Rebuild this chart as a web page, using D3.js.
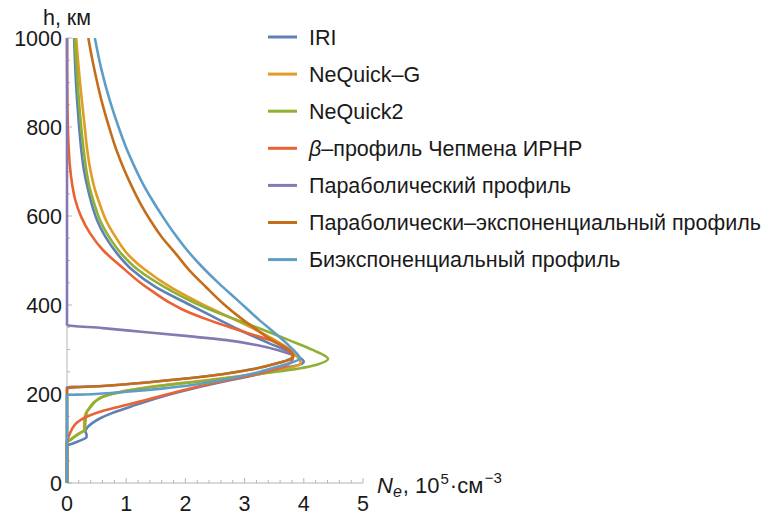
<!DOCTYPE html>
<html>
<head>
<meta charset="utf-8">
<script src="https://cdn.jsdelivr.net/npm/d3@7"></script>
<style>
  html, body { margin: 0; padding: 0; background: #fff; }
  svg { display: block; }
  text { font-family: "Liberation Sans", Arial, sans-serif; fill: #1a1a1a; }
</style>
</head>
<body>
<svg id="chart" width="781" height="516"></svg>
<script>
// Electron density profiles: [Ne (10^5 cm^-3), h (km)], ordered by height
const iri = [[0,0],[0,83],[0.12,90],[0.25,97],[0.33,103],[0.33,109],[0.31,116],[0.34,124],[0.42,134],[0.57,146],[0.76,157],[1.0,168],[1.15,175],[1.6,194],[2.15,213],[2.75,231],[3.3,246],[3.75,260],[3.97,268],[4.0,273],[3.95,280],[3.75,295],[3.4,315],[2.9,345],[2.45,375],[2.02,404],[1.5,440],[1.1,479],[0.85,515],[0.65,553],[0.51,590],[0.415,628],[0.345,665],[0.29,700],[0.24,750],[0.205,800],[0.17,861],[0.152,900],[0.12,1000]];
const nequickG = [[0,0],[0,93],[0.05,97],[0.12,104],[0.21,112],[0.29,119],[0.29,135],[0.3,149],[0.33,160],[0.39,171],[0.46,182],[0.6,194],[0.98,207],[1.5,218],[2.35,231],[3.15,245],[3.75,258],[3.95,270],[3.88,285],[3.65,310],[3.25,340],[2.85,366],[2.25,404],[1.75,440],[1.32,479],[1.02,515],[0.82,553],[0.66,590],[0.55,628],[0.46,665],[0.40,700],[0.34,750],[0.30,800],[0.25,861],[0.22,900],[0.155,1000]];
const nequick2 = [[0,0],[0,92],[0.06,97],[0.13,104],[0.22,112],[0.30,119],[0.31,135],[0.32,149],[0.34,160],[0.40,171],[0.47,182],[0.61,194],[1.01,207],[1.57,218],[2.42,231],[3.26,245],[3.94,258],[4.22,266],[4.41,279],[4.15,299],[3.75,321],[3.2,350],[2.88,366],[2.58,381],[2.17,404],[1.65,440],[1.2,479],[0.92,515],[0.71,553],[0.56,590],[0.46,628],[0.38,665],[0.33,700],[0.28,750],[0.24,800],[0.2,861],[0.18,900],[0.155,950],[0.13,1000]];
const chapmanBeta = [[0,0],[0,97],[0.03,105],[0.08,120],[0.16,135],[0.35,150],[0.6,162],[0.85,170],[1.05,177],[1.35,187],[1.6,196],[2.1,213],[2.7,231],[3.25,246],[3.68,262],[3.8,275],[3.82,285],[3.75,300],[3.55,315],[3.1,335],[2.75,350],[2.4,366],[1.95,390],[1.75,404],[1.45,430],[1.25,449],[0.92,486],[0.61,523],[0.39,561],[0.24,598],[0.14,636],[0.085,673],[0.05,711],[0.03,750],[0.018,786],[0.006,861],[0.002,930],[0.001,1000]];
const parabolic = [[0,0],[0,215],[0.6,218],[1.0,222],[1.5,228],[2.1,236],[2.65,245],[3.15,256],[3.55,269],[3.76,278],[3.82,285],[3.6,297],[3.2,310],[2.75,320],[2.05,330],[1.25,340],[0.6,348],[0,355],[0,1000]];
const parabolicExp = [[0,0],[0,213],[0.6,218],[1.0,222],[1.5,228],[2.1,236],[2.65,245],[3.15,256],[3.55,269],[3.76,278],[3.82,285],[3.72,300],[3.47,320],[3.2,345],[2.98,366],[2.63,404],[2.35,440],[2.06,479],[1.84,515],[1.6,553],[1.41,590],[1.24,628],[1.1,665],[0.97,703],[0.83,750],[0.71,800],[0.58,861],[0.51,900],[0.43,950],[0.36,1000]];
const biexp = [[0,0],[0,198],[0.3,199],[0.6,201],[1.0,205],[1.6,212],[2.2,222],[2.75,235],[3.2,248],[3.55,261],[3.82,272],[3.94,279],[3.9,288],[3.77,306],[3.52,336],[3.25,366],[2.88,411],[2.57,448],[2.28,486],[2.03,523],[1.81,561],[1.62,598],[1.44,636],[1.28,673],[1.14,711],[1.01,750],[0.87,800],[0.72,861],[0.58,930],[0.47,1000]];

const seriesNames = ["IRI", "NeQuick–G", "NeQuick2", "β–профиль Чепмена ИРНР", "Параболический профиль", "Параболически–экспоненциальный профиль", "Биэкспоненциальный профиль"];
const seriesColors = ["#5E81B5", "#E19C24", "#8FB032", "#EB6235", "#8778B3", "#C56E1A", "#5D9EC7"];
const seriesData = [iri, nequickG, nequick2, chapmanBeta, parabolic, parabolicExp, biexp];

const xMajorTicks = [0, 1, 2, 3, 4, 5];
const yMajorTicks = [0, 200, 400, 600, 800, 1000];

const svg = d3.select("#chart");
const W = 781, H = 516;
svg.append("rect").attr("width", W).attr("height", H).attr("fill", "#fff");

const x = d3.scaleLinear().domain([0, 5]).range([67, 363]);
const y = d3.scaleLinear().domain([0, 1000]).range([483, 38]);

const axisColor = "#b5b5b5";
const fontSize = 21.5;

// minor tick positions
const xMinor = d3.range(0, 5.0001, 0.2).filter(v => Math.abs(v - Math.round(v)) > 1e-6);
const yMinor = d3.range(0, 1000.001, 50).filter(v => v % 200 !== 0);

const axes = svg.append("g");
// x axis
axes.append("line").attr("x1", x(0)).attr("x2", x(5)).attr("y1", y(0)).attr("y2", y(0))
  .attr("stroke", axisColor).attr("stroke-width", 1);
axes.selectAll(".xmaj").data(xMajorTicks).enter().append("line")
  .attr("x1", d => x(d)).attr("x2", d => x(d)).attr("y1", y(0)).attr("y2", y(0) - 5)
  .attr("stroke", axisColor);
axes.selectAll(".xmin").data(xMinor).enter().append("line")
  .attr("x1", d => x(d)).attr("x2", d => x(d)).attr("y1", y(0)).attr("y2", y(0) - 3)
  .attr("stroke", axisColor);
// y axis
axes.append("line").attr("x1", x(0)).attr("x2", x(0)).attr("y1", y(0)).attr("y2", y(1000))
  .attr("stroke", axisColor).attr("stroke-width", 1);
axes.selectAll(".ymaj").data(yMajorTicks).enter().append("line")
  .attr("x1", x(0)).attr("x2", x(0) + 5).attr("y1", d => y(d)).attr("y2", d => y(d))
  .attr("stroke", axisColor);
axes.selectAll(".ymin").data(yMinor).enter().append("line")
  .attr("x1", x(0)).attr("x2", x(0) + 3).attr("y1", d => y(d)).attr("y2", d => y(d))
  .attr("stroke", axisColor);

// tick labels
svg.append("g").selectAll("text").data(xMajorTicks).enter().append("text")
  .attr("x", d => x(d)).attr("y", 511).attr("text-anchor", "middle")
  .attr("font-size", fontSize).text(d => d);
svg.append("g").selectAll("text").data(yMajorTicks).enter().append("text")
  .attr("x", x(0) - 5).attr("y", d => y(d) + 7.5).attr("text-anchor", "end")
  .attr("font-size", fontSize).text(d => d);

// axis titles
svg.append("text").attr("x", x(0)).attr("y", 25).attr("text-anchor", "middle")
  .attr("font-size", fontSize).text("h, км");
const xl = svg.append("text").attr("x", 377).attr("y", 493).attr("font-size", 22);
xl.append("tspan").attr("font-style", "italic").text("N");
xl.append("tspan").attr("font-style", "italic").attr("font-size", 16).attr("dy", 4).text("e");
xl.append("tspan").attr("dy", -4).attr("dx", 1).text(", 10");
xl.append("tspan").attr("font-size", 15).attr("dy", -9).attr("dx", 1).text("5");
xl.append("tspan").attr("dy", 9).attr("dx", 1).text("·см");
xl.append("tspan").attr("font-size", 15).attr("dy", -10).attr("dx", 1.5).text("−3");

// profile curves
svg.append("clipPath").attr("id", "plotclip").append("rect")
  .attr("x", x(0) - 3).attr("y", y(1000)).attr("width", x(5) - x(0) + 10).attr("height", y(0) - y(1000) + 3);
const line = d3.line().x(d => x(d[0])).y(d => y(d[1])).curve(d3.curveMonotoneY);
const curves = svg.append("g").attr("clip-path", "url(#plotclip)");
seriesData.forEach((s, i) => {
  curves.append("path").datum(s).attr("d", line).attr("fill", "none")
    .attr("stroke", seriesColors[i]).attr("stroke-width", 2.6)
    .attr("stroke-linejoin", "round").attr("stroke-linecap", "butt");
});

// legend
const legend = svg.append("g");
seriesNames.forEach((name, i) => {
  const cy = 37 + i * 37.1;
  legend.append("line").attr("x1", 268).attr("x2", 297).attr("y1", cy).attr("y2", cy)
    .attr("stroke", seriesColors[i]).attr("stroke-width", 3);
  const t = legend.append("text").attr("x", 309).attr("y", cy + 7.5).attr("font-size", fontSize);
  if (name.startsWith("β")) {
    t.append("tspan").attr("font-style", "italic").text("β");
    t.append("tspan").text(name.slice(1));
  } else {
    t.text(name);
  }
});
</script>
</body>
</html>
